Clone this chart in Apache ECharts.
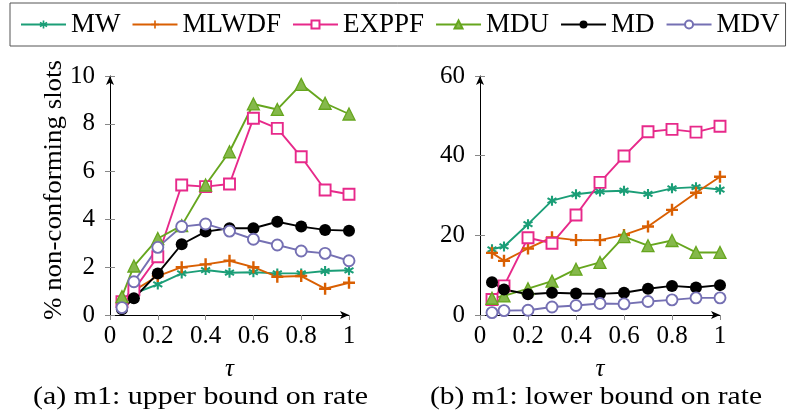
<!DOCTYPE html>
<html><head><meta charset="utf-8">
<script src="https://cdn.jsdelivr.net/npm/echarts@6/dist/echarts.min.js"></script>
<style>html,body{margin:0;padding:0;background:#fff}#c{width:787px;height:410px}</style>
</head><body><div id="c"></div>
<script>
const tau = [0.05, 0.1, 0.2, 0.3, 0.4, 0.5, 0.6, 0.7, 0.8, 0.9, 1.0];
const seriesNames = ['MW', 'MLWDF', 'EXPPF', 'MDU', 'MD', 'MDV'];
// (a) upper bound on rate
const upperMW    = [0.35, 0.9, 1.28, 1.74, 1.88, 1.77, 1.79, 1.74, 1.74, 1.84, 1.87];
const upperMLWDF = [0.49, 1.02, 1.63, 2.0, 2.12, 2.27, 2.0, 1.6, 1.63, 1.1, 1.35];
const upperEXPPF = [0.56, 1.05, 2.44, 5.44, 5.37, 5.48, 8.23, 7.81, 6.62, 5.23, 5.05];
const upperMDU   = [0.77, 2.05, 3.2, 3.74, 5.44, 6.83, 8.83, 8.6, 9.65, 8.86, 8.41];
const upperMD    = [0.24, 0.7, 1.74, 2.96, 3.49, 3.63, 3.63, 3.9, 3.7, 3.56, 3.53];
const upperMDV   = [0.31, 1.39, 2.83, 3.7, 3.81, 3.51, 3.17, 2.93, 2.68, 2.58, 2.27];
// (b) lower bound on rate
const lowerMW    = [16.5, 17.2, 22.8, 28.7, 30.3, 31.0, 31.2, 30.4, 31.8, 32.1, 31.5];
const lowerMLWDF = [15.6, 13.6, 16.7, 19.5, 18.8, 18.8, 20.1, 22.2, 26.4, 30.7, 34.7];
const lowerEXPPF = [3.9, 7.3, 19.4, 18.0, 25.1, 33.3, 39.9, 46.0, 46.6, 45.9, 47.4];
const lowerMDU   = [4.2, 4.8, 6.6, 8.5, 11.5, 13.2, 19.7, 17.4, 18.7, 15.7, 15.7];
const lowerMD    = [8.2, 6.4, 5.2, 5.6, 5.4, 5.3, 5.6, 6.6, 7.3, 6.9, 7.5];
const lowerMDV   = [0.6, 1.1, 1.2, 2.0, 2.4, 2.9, 2.8, 3.4, 3.8, 4.3, 4.3];
const xTicks = [0, 0.2, 0.4, 0.6, 0.8, 1];
const leftYTicks = [0, 2, 4, 6, 8, 10];
const rightYTicks = [0, 20, 40, 60];
const yTitle = '% non-conforming slots';
const xTitle = 'τ';
const captionA = '(a) m1: upper bound on rate';
const captionB = '(b) m1: lower bound on rate';

const upper = [upperMW, upperMLWDF, upperEXPPF, upperMDU, upperMD, upperMDV];
const lower = [lowerMW, lowerMLWDF, lowerEXPPF, lowerMDU, lowerMD, lowerMDV];

const colors = ['#1b9e77', '#d95f02', '#e7298a', '#66a61e', '#000000', '#7570b3'];
const fills  = ['#1b9e77', '#d95f02', '#ffffff', '#85b84b', '#000000', '#ffffff'];
const starPath = 'path://M-1,-5L1,-5L1,5L-1,5Z M3.83,-3.37L4.83,-1.63L-3.83,3.37L-4.83,1.63Z M-4.83,-1.63L-3.83,-3.37L4.83,1.63L3.83,3.37Z';
const plusPath = 'path://M-1,-5L1,-5L1,-1L5,-1L5,1L1,1L1,5L-1,5L-1,1L-5,1L-5,-1L-1,-1Z';
const symbols = [starPath, plusPath, 'rect', 'triangle', 'circle', 'circle'];
const symSizes = [10, 12, 11, 12, 12, 11];
const borderW = [0, 0, 1.9, 1.3, 0, 1.9];
const FONT = 'Liberation Serif';

function mkSeries(arr, idx) {
  return arr.map((vals, i) => ({
    name: seriesNames[i], type: 'line', xAxisIndex: idx, yAxisIndex: idx,
    data: vals.map((v, j) => [tau[j], v]),
    symbol: symbols[i], symbolSize: symSizes[i], showAllSymbol: true,
    lineStyle: {color: colors[i], width: 1.9},
    itemStyle: {color: fills[i], borderColor: colors[i], borderWidth: borderW[i]},
    emphasis: {disabled: true}, animation: false, z: 3
  }));
}

function xAx(gi) {
  return {
    type: 'value', gridIndex: gi, min: 0, max: 1, interval: 0.2,
    name: xTitle, nameLocation: 'middle', nameGap: 42,
    nameTextStyle: {fontFamily: FONT, fontSize: 25, fontStyle: 'italic', color: '#000'},
    axisLine: {show: true, lineStyle: {color: '#000', width: 1}, symbol: ['none', 'arrow'], symbolSize: [6, 9]},
    axisTick: {show: true, length: 5, lineStyle: {color: '#888'}},
    axisLabel: {fontFamily: FONT, fontSize: 25, color: '#000', margin: 9,
      formatter: v => xTicks.includes(Math.round(v * 10) / 10) ? String(Math.round(v * 10) / 10) : ''},
    splitLine: {show: false}
  };
}
function yAx(gi, max, interval, ticks) {
  return {
    type: 'value', gridIndex: gi, min: 0, max: max, interval: interval,
    axisLine: {show: true, lineStyle: {color: '#000', width: 1}, symbol: ['none', 'arrow'], symbolSize: [6, 9]},
    axisTick: {show: true, length: 5, lineStyle: {color: '#888'}},
    axisLabel: {fontFamily: FONT, fontSize: 25, color: '#000', margin: 15,
      formatter: v => ticks.includes(v) ? String(v) : ''},
    splitLine: {show: false}
  };
}
function yInner(gi, max, interval) {
  return {
    type: 'value', gridIndex: gi, min: 0, max: max, interval: interval, position: 'left',
    axisLine: {show: false}, axisLabel: {show: false}, splitLine: {show: false},
    axisTick: {show: true, inside: true, length: 5, lineStyle: {color: '#888'}}
  };
}

const mctx = document.createElement('canvas').getContext('2d');
function fitScale(text, font, target) {
  mctx.font = font;
  return target / mctx.measureText(text).width;
}
const capFont = '25px "Liberation Serif"';
const titleFont = '25px "Liberation Serif"';

const chart = echarts.init(document.getElementById('c'), null, {renderer: 'canvas'});
chart.setOption({
  animation: false,
  backgroundColor: '#fff',
  legend: {
    data: seriesNames, left: 10, top: 3, padding: [8, 6, 8, 10],
    itemGap: 11, itemWidth: 45, itemHeight: 10,
    borderColor: '#555', borderWidth: 1,
    textStyle: {fontFamily: FONT, fontSize: 27, color: '#000'}
  },
  grid: [
    {left: 110, top: 76, width: 239, height: 239},
    {left: 480, top: 76, width: 240, height: 239}
  ],
  xAxis: [xAx(0), xAx(1)],
  yAxis: [yAx(0, 10, 2, leftYTicks), yAx(1, 60, 20, rightYTicks), yInner(0, 10, 2), yInner(1, 60, 20)],
  graphic: [
    {type: 'text', x: 200.5, y: 397, scaleX: fitScale(captionA, capFont, 335),
      style: {text: captionA, font: capFont, fill: '#000', align: 'center', verticalAlign: 'middle', textAlign: 'center', textVerticalAlign: 'middle'}},
    {type: 'text', x: 596, y: 397, scaleX: fitScale(captionB, capFont, 332),
      style: {text: captionB, font: capFont, fill: '#000', align: 'center', verticalAlign: 'middle', textAlign: 'center', textVerticalAlign: 'middle'}},
    {type: 'text', x: 54, y: 190, rotation: Math.PI / 2, scaleX: fitScale(yTitle, titleFont, 260),
      style: {text: yTitle, font: titleFont, fill: '#000', align: 'center', verticalAlign: 'middle', textAlign: 'center', textVerticalAlign: 'middle'}}
  ],
  series: [...mkSeries(upper, 0), ...mkSeries(lower, 1)]
});
</script></body></html>
